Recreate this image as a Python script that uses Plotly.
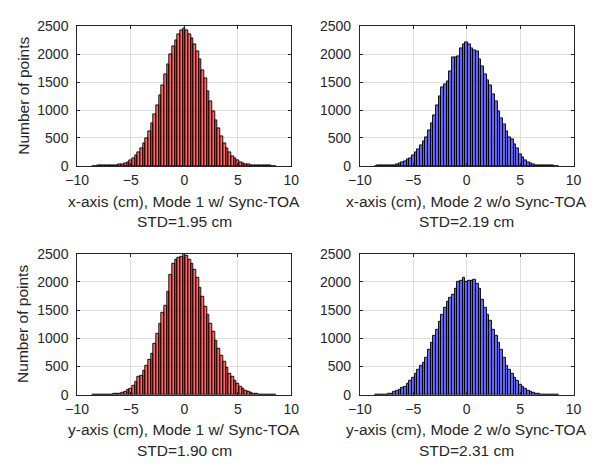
import plotly.graph_objects as go

# ---------------- data ----------------
BIN_START = -8.5
BIN_WIDTH = 0.25
N_BINS = 69
bin_centers = [round(BIN_START + BIN_WIDTH * i, 3) for i in range(N_BINS)]

x_mode1 = [0, 0, 1, 1, 2, 2, 3, 5,
           8, 13, 20, 32, 45, 66, 95, 132,
           180, 245, 318, 400, 500, 620, 760, 915,
           1090, 1270, 1440, 1640, 1815, 2000, 2150, 2250,
           2350, 2420, 2465, 2430, 2360, 2280, 2185, 2060,
           1900, 1720, 1560, 1340, 1160, 975, 815, 680,
           525, 395, 310, 240, 178, 130, 98, 70,
           48, 33, 21, 14, 9, 6, 4, 3,
           2, 1, 1, 0, 0]

x_mode2 = [0, 1, 1, 2, 3, 5, 9, 16,
           28, 42, 60, 82, 110, 140, 185, 240,
           300, 370, 440, 520, 630, 760, 900, 1080,
           1240, 1400, 1460, 1520, 1690, 1940, 1950, 1965,
           2100, 2170, 2215, 2180, 2110, 2075, 2060, 1900,
           1780, 1640, 1525, 1440, 1280, 1150, 985, 850,
           740, 610, 520, 470, 390, 320, 210, 150,
           95, 62, 40, 24, 14, 9, 6, 4,
           2, 1, 1, 0, 0]

y_mode1 = [0, 0, 0, 1, 1, 2, 4, 6,
           10, 16, 25, 40, 58, 80, 112, 160,
           230, 320, 345, 420, 520, 620, 730, 900,
           1080, 1260, 1450, 1580, 1820, 2130, 2320, 2400,
           2430, 2440, 2500, 2460, 2400, 2330, 2220, 2080,
           1900, 1730, 1560, 1410, 1260, 1110, 950, 810,
           700, 580, 470, 380, 315, 250, 190, 150,
           105, 75, 48, 30, 18, 11, 6, 4,
           2, 1, 1, 0, 0]

y_mode2 = [1, 2, 3, 5, 7, 10, 20, 45,
           75, 95, 118, 140, 200, 255, 300, 380,
           450, 515, 570, 650, 790, 930, 1050, 1160,
           1290, 1420, 1540, 1650, 1720, 1780, 1880, 2000,
           2030, 2080, 2010, 2020, 2030, 2040, 1960, 1880,
           1690, 1540, 1420, 1310, 1160, 1050, 930, 800,
           650, 520, 440, 370, 300, 240, 180, 150,
           105, 72, 45, 30, 18, 12, 8, 5,
           3, 2, 1, 1, 0]

x_labels = ["x-axis (cm), Mode 1 w/ Sync-TOA", "x-axis (cm), Mode 2 w/o Sync-TOA",
            "y-axis (cm), Mode 1 w/ Sync-TOA", "y-axis (cm), Mode 2 w/o Sync-TOA"]
std_labels = ["STD=1.95 cm", "STD=2.19 cm", "STD=1.90 cm", "STD=2.31 cm"]
y_label = "Number of points"
x_ticks = [-10, -5, 0, 5, 10]
y_ticks = [0, 500, 1000, 1500, 2000, 2500]

series = [x_mode1, x_mode2, y_mode1, y_mode2]
fills = ["rgba(255,0,0,0.6)", "rgba(0,0,255,0.6)", "rgba(255,0,0,0.6)", "rgba(0,0,255,0.6)"]

# ---------------- layout ----------------
W, H = 597, 466
col_px = [(67.5, 289.0), (360.0, 581.0)]
row_px = [(19.0, 163.5), (254.5, 400.5)]  # top, bottom in px
label_y_px = [(200.0, 221.0), (437.0, 458.0)]

FONT = "Liberation Sans, Arial, Helvetica, sans-serif"
TXT = "rgb(38,38,38)"

fig = go.Figure()
annotations = []
layout_axes = {}
for i in range(4):
    r, c = divmod(i, 2)
    xa = "x" if i == 0 else f"x{i+1}"
    ya = "y" if i == 0 else f"y{i+1}"
    fig.add_trace(go.Bar(
        x=bin_centers, y=series[i], width=BIN_WIDTH,
        marker=dict(color=fills[i], line=dict(color="black", width=0.9)),
        xaxis=xa, yaxis=ya, showlegend=False, hoverinfo="x+y"))
    x0, x1 = col_px[c]
    t, b = row_px[r]
    axcommon = dict(showline=True, linecolor=TXT, linewidth=1, mirror="ticks",
                    ticks="inside", ticklen=3, tickcolor=TXT, showgrid=True,
                    gridcolor="rgb(223,223,223)", gridwidth=1, zeroline=False,
                    tickfont=dict(family=FONT, size=14, color=TXT))
    layout_axes["xaxis" if i == 0 else f"xaxis{i+1}"] = dict(
        axcommon, domain=[x0 / W, x1 / W], range=[-10, 10], tickvals=x_ticks,
        anchor=ya, ticklabelstandoff=1)
    layout_axes["yaxis" if i == 0 else f"yaxis{i+1}"] = dict(
        axcommon, domain=[1 - b / H, 1 - t / H], range=[0, 2500], tickvals=y_ticks,
        anchor=xa, ticklabelstandoff=5)
    xc = (x0 + x1) / 2 / W
    for txt, ypx in zip([x_labels[i], std_labels[i]], label_y_px[r]):
        annotations.append(dict(text=txt, x=xc, y=1 - ypx / H, xref="paper", yref="paper",
                                xanchor="center", yanchor="middle", showarrow=False,
                                font=dict(family=FONT, size=15.5, color=TXT)))
    if c == 0:
        annotations.append(dict(text=y_label, x=11 / W, y=1 - (t + b) / 2 / H,
                                xref="paper", yref="paper", xanchor="center",
                                yanchor="middle", textangle=-90, showarrow=False,
                                font=dict(family=FONT, size=15.5, color=TXT)))

fig.update_layout(width=W, height=H, margin=dict(l=0, r=0, t=0, b=0),
                  paper_bgcolor="white", plot_bgcolor="white", bargap=0,
                  annotations=annotations, **layout_axes)
fig.write_html("out.html")
